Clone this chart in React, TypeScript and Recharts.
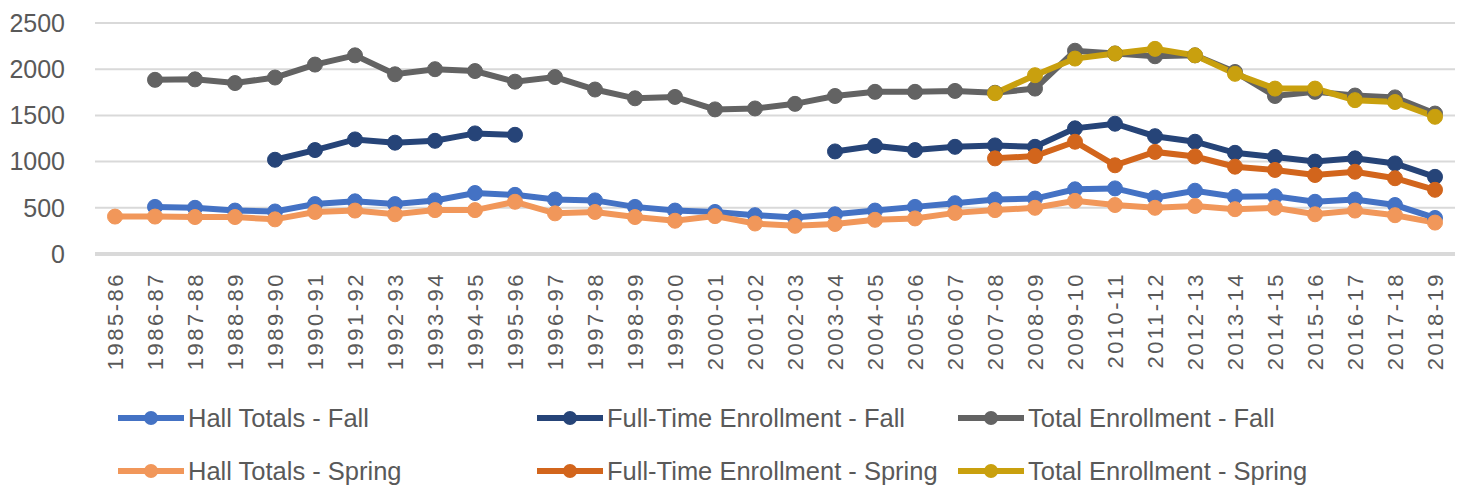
import { CartesianGrid, Legend, Line, LineChart, XAxis, YAxis } from "recharts"

const years = [
  "1985-86", "1986-87", "1987-88", "1988-89", "1989-90", "1990-91", "1991-92",
  "1992-93", "1993-94", "1994-95", "1995-96", "1996-97", "1997-98", "1998-99",
  "1999-00", "2000-01", "2001-02", "2002-03", "2003-04", "2004-05", "2005-06",
  "2006-07", "2007-08", "2008-09", "2009-10", "2010-11", "2011-12", "2012-13",
  "2013-14", "2014-15", "2015-16", "2016-17", "2017-18", "2018-19",
]

const hallFall = [
  null, 510, 500, 470, 460, 540, 570, 540, 580, 660, 640, 590, 580, 510, 470,
  455, 420, 395, 430, 470, 510, 550, 590, 600, 700, 710, 610, 685, 620, 625,
  565, 590, 530, 390,
]
const fullTimeFall = [
  null, null, null, null, 1020, 1125, 1240, 1205, 1225, 1305, 1290,
  null, null, null, null, null, null, null,
  1110, 1170, 1125, 1160, 1175, 1160, 1360, 1410, 1275, 1215, 1095, 1050,
  1000, 1035, 980, 835,
]
const totalFall = [
  null, 1885, 1890, 1850, 1910, 2050, 2150, 1945, 2000, 1980, 1865, 1915,
  1780, 1685, 1700, 1565, 1575, 1625, 1710, 1755, 1755, 1765, 1745, 1790,
  2200, 2170, 2140, 2150, 1970, 1710, 1755, 1715, 1695, 1520,
]
const hallSpring = [
  405, 405, 400, 400, 375, 455, 470, 430, 475, 475, 565, 440, 455, 400, 360,
  410, 330, 305, 325, 370, 385, 445, 475, 500, 575, 530, 500, 520, 485, 500,
  430, 470, 420, 340,
]
const fullTimeSpring = [
  null, null, null, null, null, null, null, null, null, null, null,
  null, null, null, null, null, null, null, null, null, null, null,
  1035, 1060, 1215, 960, 1105, 1055, 945, 910, 855, 890, 820, 695,
]
const totalSpring = [
  null, null, null, null, null, null, null, null, null, null, null,
  null, null, null, null, null, null, null, null, null, null, null,
  1740, 1935, 2115, 2170, 2220, 2150, 1950, 1790, 1790, 1665, 1645, 1485,
]

const yTicks = [0, 500, 1000, 1500, 2000, 2500]

const series = [
  { key: "hallFall", name: "Hall Totals - Fall", color: "#4472C4", values: hallFall },
  { key: "fullTimeFall", name: "Full-Time Enrollment - Fall", color: "#264478", values: fullTimeFall },
  { key: "totalFall", name: "Total Enrollment - Fall", color: "#636363", values: totalFall },
  { key: "hallSpring", name: "Hall Totals - Spring", color: "#F1975A", values: hallSpring },
  { key: "fullTimeSpring", name: "Full-Time Enrollment - Spring", color: "#D2651C", values: fullTimeSpring },
  { key: "totalSpring", name: "Total Enrollment - Spring", color: "#C9A00E", values: totalSpring },
]

const data = years.map((year, i) => {
  const row: Record<string, string | number | null> = { year }
  series.forEach((s) => {
    row[s.key] = s.values[i]
  })
  return row
})

const FONT = "'Liberation Sans', Arial, sans-serif"
const TEXT = "#595959"

function YearTick(props: any) {
  const { x, y, payload } = props
  return (
    <g transform={`translate(${x},${y})`}>
      <text
        transform="rotate(-90)"
        textAnchor="end"
        dx={-10}
        dy="0.36em"
        fontSize={22}
        letterSpacing={2.5}
        fontFamily={FONT}
        fill={TEXT}
      >
        {payload.value}
      </text>
    </g>
  )
}

// legend columns/rows laid out like the Excel one
const legendCols = [118, 537, 958]
const legendRows = [34, 87]

function ExcelLegend() {
  return (
    <svg width={1461} height={103} style={{ display: "block" }}>
      {series.map((s, i) => {
        const col = i % 3
        const row = Math.floor(i / 3)
        const x = legendCols[col]
        const y = legendRows[row]
        return (
          <g key={s.key}>
            <line x1={x} y1={y} x2={x + 66} y2={y} stroke={s.color} strokeWidth={6} />
            <circle cx={x + 33} cy={y} r={7} fill={s.color} />
            <text x={x + 70} y={y} dy="0.35em" fontSize={25.5} fontFamily={FONT} fill={TEXT}>
              {s.name}
            </text>
          </g>
        )
      })}
    </svg>
  )
}

export default function App() {
  return (
    <div style={{ position: "absolute", left: 0, top: 0, background: "#fff" }}>
      <LineChart
        width={1461}
        height={487}
        data={data}
        margin={{ top: 23, right: 6, left: 0, bottom: 0 }}
      >
        <CartesianGrid vertical={false} stroke="#D9D9D9" strokeWidth={2} />
        <XAxis
          dataKey="year"
          interval={0}
          height={130}
          padding={{ left: 20, right: 20 }}
          axisLine={{ stroke: "#D9D9D9", strokeWidth: 4 }}
          tickLine={false}
          tick={<YearTick />}
        />
        <YAxis
          width={95}
          domain={[0, 2500]}
          ticks={yTicks}
          axisLine={false}
          tickLine={false}
          tickSize={0}
          tickMargin={30}
          tick={{ fontSize: 25, fill: TEXT, fontFamily: FONT }}
        />
        {series.map((s) => (
          <Line
            key={s.key}
            dataKey={s.key}
            name={s.name}
            stroke={s.color}
            strokeWidth={6}
            dot={{ r: 7.5, fill: s.color, stroke: s.color, strokeWidth: 1 }}
            isAnimationActive={false}
          />
        ))}
        <Legend verticalAlign="bottom" height={103} content={<ExcelLegend />} />
      </LineChart>
    </div>
  )
}
